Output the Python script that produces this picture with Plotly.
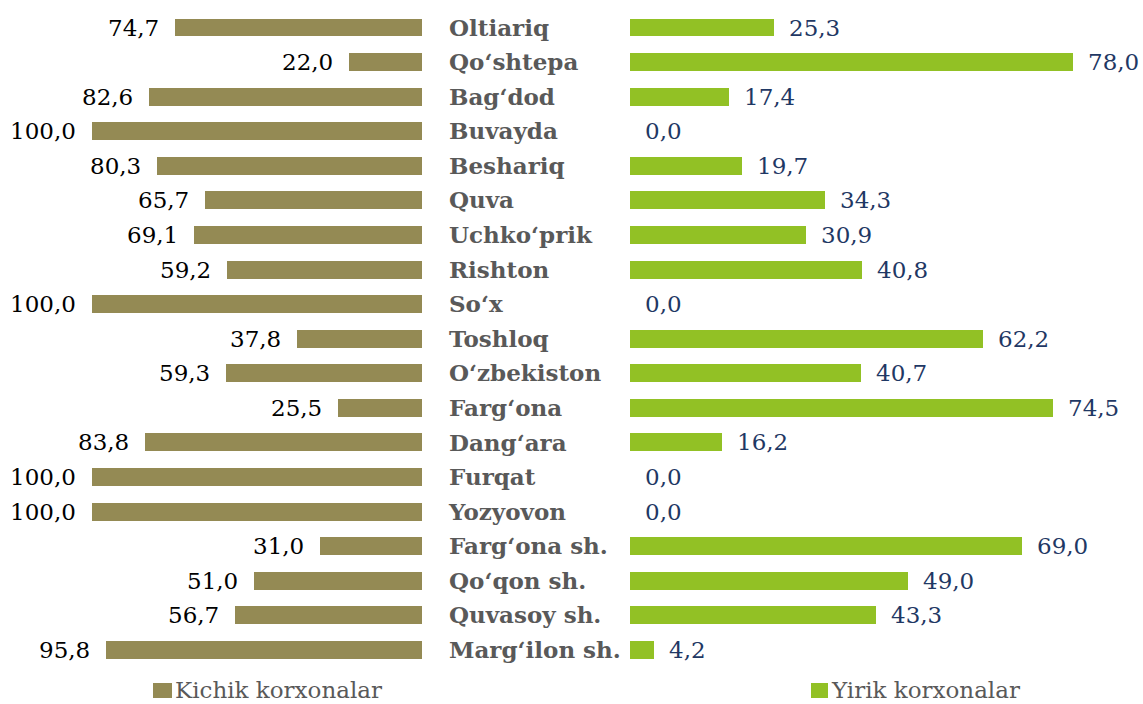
import plotly.graph_objects as go

categories = ["Oltiariq", "Qo‘shtepa", "Bag‘dod", "Buvayda", "Beshariq", "Quva",
              "Uchko‘prik", "Rishton", "So‘x", "Toshloq", "O‘zbekiston", "Farg‘ona",
              "Dang‘ara", "Furqat", "Yozyovon", "Farg‘ona sh.", "Qo‘qon sh.",
              "Quvasoy sh.", "Marg‘ilon sh."]
kichik = [74.7, 22.0, 82.6, 100.0, 80.3, 65.7, 69.1, 59.2, 100.0, 37.8, 59.3, 25.5,
          83.8, 100.0, 100.0, 31.0, 51.0, 56.7, 95.8]
yirik = [25.3, 78.0, 17.4, 0.0, 19.7, 34.3, 30.9, 40.8, 0.0, 62.2, 40.7, 74.5,
         16.2, 0.0, 0.0, 69.0, 49.0, 43.3, 4.2]
series_names = ["Kichik korxonalar", "Yirik korxonalar"]

W, H = 1143, 704
C_LEFT = "#948A54"
C_RIGHT = "#92C125"
FONT = "DejaVu Serif"
FS = 23

def fmt(v):
    return f"{v:.1f}".replace(".", ",")

fig = go.Figure()
fig.add_trace(go.Bar(y=categories, x=kichik, orientation="h", xaxis="x", yaxis="y",
                     marker=dict(color=C_LEFT, line=dict(width=0)), width=0.52,
                     name=series_names[0], showlegend=False, hoverinfo="x+y"))
fig.add_trace(go.Bar(y=categories, x=yirik, orientation="h", xaxis="x2", yaxis="y",
                     marker=dict(color=C_RIGHT, line=dict(width=0)), width=0.52,
                     name=series_names[1], showlegend=False, hoverinfo="x+y"))

annotations = []
for c, v in zip(categories, kichik):
    annotations.append(dict(x=v, y=c, xref="x", yref="y", text=fmt(v), showarrow=False,
                            xanchor="right", xshift=-14,
                            font=dict(family=FONT, size=FS, color="#000000")))
for c, v in zip(categories, yirik):
    annotations.append(dict(x=v, y=c, xref="x2", yref="y", text=fmt(v), showarrow=False,
                            xanchor="left", xshift=13,
                            font=dict(family=FONT, size=FS, color="#1F3864")))

# legend
shapes = []
leg = [(153, 172, C_LEFT, series_names[0]), (811, 828, C_RIGHT, series_names[1])]
for x0, x1, col, name in leg:
    shapes.append(dict(type="rect", xref="paper", yref="paper",
                       x0=x0 / W, x1=x1 / W, y0=1 - 698 / H, y1=1 - 683 / H,
                       fillcolor=col, line=dict(width=0)))
    annotations.append(dict(x=(x1 + 1) / W, y=1 - 690 / H, xref="paper", yref="paper",
                            text=name, showarrow=False, xanchor="left", yanchor="middle",
                            font=dict(family=FONT, size=FS, color="#595959")))

left_zero = 422
left_ppu = 3.3
right_zero = 630
right_ppu = 5.68
row = 34.58
y_first = 27.5

fig.update_layout(
    width=W, height=H,
    margin=dict(l=0, r=0, t=0, b=0),
    paper_bgcolor="white", plot_bgcolor="white",
    bargap=0,
    font=dict(family=FONT),
    xaxis=dict(domain=[0, left_zero / W], range=[left_zero / left_ppu, 0],
               visible=False, fixedrange=True),
    xaxis2=dict(domain=[right_zero / W, 1], range=[0, (W - right_zero) / right_ppu],
                visible=False, fixedrange=True, anchor="y"),
    yaxis=dict(domain=[0, 1], anchor="x", side="right",
               type="category", categoryorder="array", categoryarray=categories,
               range=[18 + (H - (y_first + 18 * row)) / row, -y_first / row],
               showgrid=False, zeroline=False, showline=False, ticks="",
               ticklabelstandoff=26,
               tickfont=dict(family=FONT, size=FS, color="#595959", weight="bold")),
    annotations=annotations,
    shapes=shapes,
)

fig.write_html("out.html", config={"displayModeBar": False},
               post_script="document.body.style.margin='0';document.body.style.padding='0';")
